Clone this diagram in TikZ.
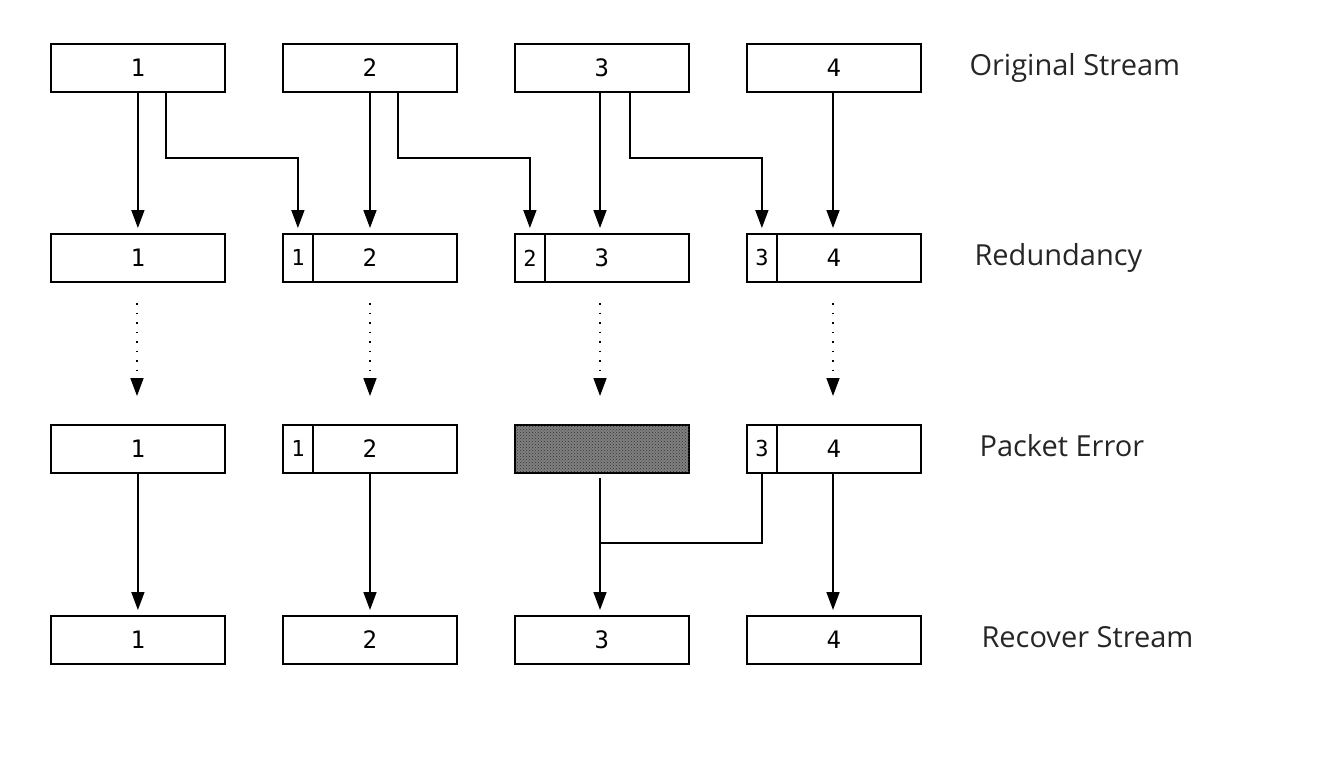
\documentclass[tikz,border=0pt]{standalone}
\usepackage{fontspec}
\setmainfont{Open Sans}
\newfontfamily\digfont{DejaVu Sans Mono}
\usetikzlibrary{arrows.meta,patterns}
\begin{document}
\begin{tikzpicture}[x=1pt,y=-1pt,
  box/.style={draw=black,line width=1.8pt,minimum width=174pt,minimum height=48pt,inner sep=0pt,font=\digfont\fontsize{24}{26}\selectfont,anchor=north west},
  sbox/.style={draw=black,line width=1.8pt,minimum width=30pt,minimum height=48pt,inner sep=0pt,font=\digfont\fontsize{22}{24}\selectfont,anchor=north west},
  tip/.style={-{Triangle[length=18pt,width=13pt]},shorten >=5pt},
  arr/.style={line width=1.6pt,tip},
  darr/.style={line width=1.6pt,dash pattern=on 1.5pt off 8pt,tip},
  conn/.style={line width=1.6pt},
  lbl/.style={anchor=west,font=\fontsize{29}{34}\selectfont,text=black!85}]
\useasboundingbox (0,0) rectangle (1328,761);
% row 1
\node[box] (o1) at (50,43) {1};
\node[box] (o2) at (282,43) {2};
\node[box] (o3) at (514,43) {3};
\node[box] (o4) at (746,43) {4};
% row 2
\node[box] (r1) at (50,233) {1};
\node[box] (r2) at (282,233) {2};
\node[box] (r3) at (514,233) {3};
\node[box] (r4) at (746,233) {4};
\node[sbox] (r2s) at (282,233) {1};
\node[sbox] (r3s) at (514,233) {2};
\node[sbox] (r4s) at (746,233) {3};
% row 3
\node[box] (e1) at (50,424) {1};
\node[box] (e2) at (282,424) {2};
\node[box,fill=black!50,postaction={pattern=crosshatch dots,pattern color=black!80}] (e3) at (514,424) {};
\node[box] (e4) at (746,424) {4};
\node[sbox] (e2s) at (282,424) {1};
\node[sbox] (e4s) at (746,424) {3};
% row 4
\node[box] (c1) at (50,615) {1};
\node[box] (c2) at (282,615) {2};
\node[box] (c3) at (514,615) {3};
\node[box] (c4) at (746,615) {4};
% labels
\node[lbl] (l1) at (966,68) {Original Stream};
\node[lbl] (l2) at (971,258) {Redundancy};
\node[lbl] (l3) at (976,446) {Packet Error};
\node[lbl] (l4) at (978,637) {Recover Stream};
% row1 -> row2
\draw[arr] (o1) -- (r1);
\draw[arr] (o2.south -| 370,0) -- (r2.north -| 370,0);
\draw[arr] (o3.south -| 600,0) -- (r3.north -| 600,0);
\draw[arr] (o4.south -| 833,0) -- (r4.north -| 833,0);
\draw[arr] (o1.south -| 166,0) -- (166,158) -| (r2s.north);
\draw[arr] (o2.south -| 398,0) -- (398,158) -| (r3s.north);
\draw[arr] (o3.south -| 630,0) -- (630,158) -| (r4s.north);
% row2 -> row3 (dotted)
\coordinate (d1) at (137,303); \coordinate (d2) at (370,303);
\coordinate (d3) at (600,303); \coordinate (d4) at (833,303);
\coordinate (t1) at (137,401); \coordinate (t2) at (370,401);
\coordinate (t3) at (600,401); \coordinate (t4) at (833,401);
\draw[darr] (d1) -- (t1);
\draw[darr] (d2) -- (t2);
\draw[darr] (d3) -- (t3);
\draw[darr] (d4) -- (t4);
% row3 -> row4
\draw[arr] (e1) -- (c1);
\draw[arr] (e2.south -| 370,0) -- (c2.north -| 370,0);
\coordinate (e3b) at (600,478);
\coordinate (jn) at (600,543);
\draw[arr] (e3b) -- (c3.north -| e3b);
\draw[conn] (e4s.south) |- (jn);
\draw[arr] (e4.south -| 833,0) -- (c4.north -| 833,0);
\end{tikzpicture}
\end{document}
